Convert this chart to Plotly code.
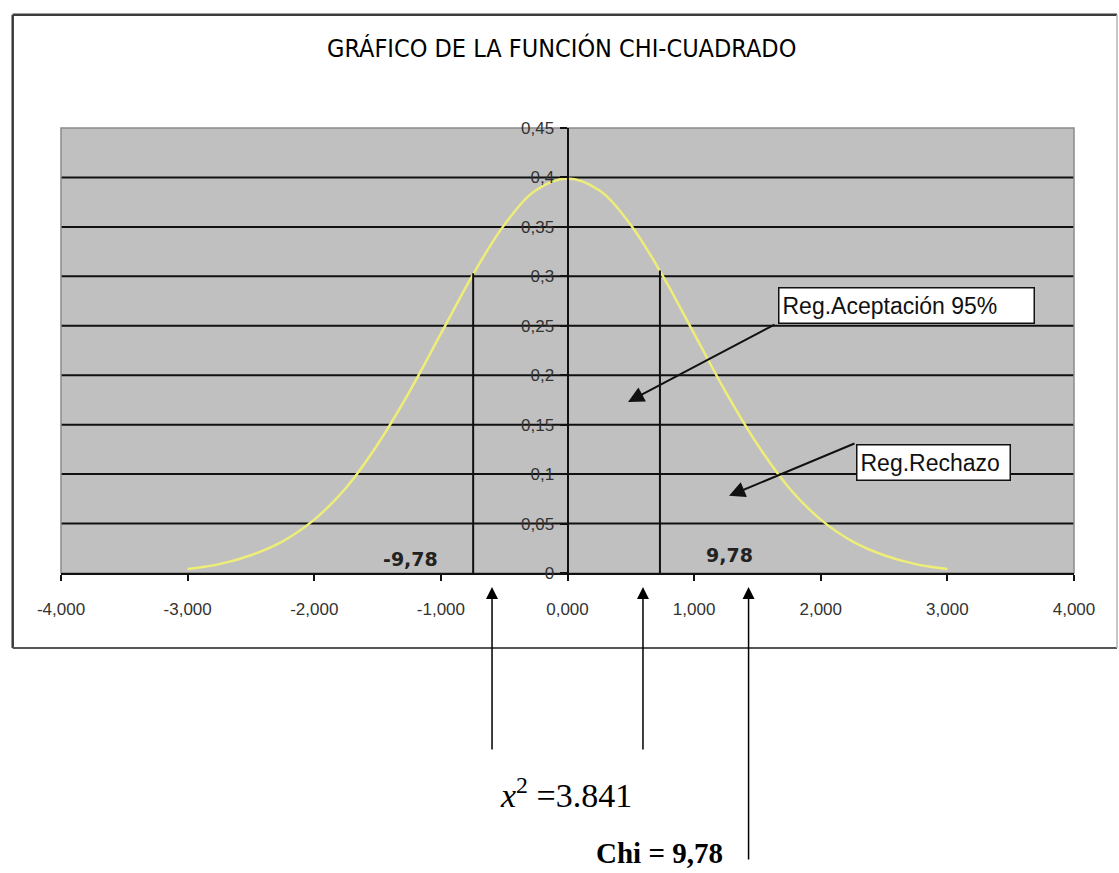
import plotly.graph_objects as go

# ---- figure geometry (pixels) ----
W, H = 1119, 873
L, R, T, B = 61, 45, 128, 300
PW, PH = W - L - R, H - T - B


def px(x):
    """pixel column -> paper x"""
    return (x - L) / PW


def py(y):
    """pixel row -> paper y"""
    return (H - B - y) / PH


# ---- data ----
curve_x = [-3.0, -2.75, -2.5, -2.25, -2.0, -1.75, -1.5, -1.25, -1.0, -0.75, -0.5, -0.25,
           0.0, 0.25, 0.5, 0.75, 1.0, 1.25, 1.5, 1.75, 2.0, 2.25, 2.5, 2.75, 3.0]
curve_y = [0.004, 0.009, 0.018, 0.032, 0.054, 0.086, 0.130, 0.183, 0.242, 0.301, 0.352, 0.387,
           0.399, 0.387, 0.352, 0.301, 0.242, 0.183, 0.130, 0.086, 0.054, 0.032, 0.018, 0.009, 0.004]

x_ticks = [-4, -3, -2, -1, 0, 1, 2, 3, 4]
x_tick_labels = ["-4,000", "-3,000", "-2,000", "-1,000", "0,000", "1,000", "2,000", "3,000", "4,000"]
y_ticks = [0, 0.05, 0.10, 0.15, 0.20, 0.25, 0.30, 0.35, 0.40, 0.45]
y_tick_labels = ["0", "0,05", "0,1", "0,15", "0,2", "0,25", "0,3", "0,35", "0,4", "0,45"]

crit_x = [-0.745, 0.73]
crit_y = [0.303, 0.306]
crit_labels = ["-9,78", "9,78"]
crit_label_x = [-1.24, 1.28]
crit_label_y = [0.014, 0.018]

# points on the x axis marked by the arrows under the chart
marker_x = [-0.596, 0.596, 1.43]

title_text = "GRÁFICO DE LA FUNCIÓN CHI-CUADRADO"
accept_text = "Reg.Aceptación 95%"
reject_text = "Reg.Rechazo"
chi2_text = "<i>x</i><sup>2</sup> =3.841"
chi_text = "<b>Chi = 9,78</b>"

fig = go.Figure()

# normal-shaped density curve
fig.add_trace(go.Scatter(
    x=curve_x, y=curve_y, mode="lines", line=dict(color="#EDED78", width=2.5, shape="spline"),
    hoverinfo="skip", showlegend=False,
))

# critical value verticals
for cx, cy in zip(crit_x, crit_y):
    fig.add_trace(go.Scatter(
        x=[cx, cx], y=[0, cy], mode="lines", line=dict(color="#111111", width=2),
        hoverinfo="skip", showlegend=False,
    ))

# horizontal grid lines (black), drawn under the curve
for yv in y_ticks[1:-1]:
    fig.add_shape(type="line", xref="paper", yref="y", x0=0, x1=1, y0=yv, y1=yv,
                  line=dict(color="#111111", width=2), layer="below")

# plot area border
fig.add_shape(type="rect", xref="paper", yref="paper", x0=0, x1=1, y0=0, y1=1,
              line=dict(color="#8a8a8a", width=1.5), layer="below")

# outer chart frame
frame = dict(xref="paper", yref="paper", type="line")
fig.add_shape(**frame, x0=px(12.7), x1=px(1117), y0=py(14.7), y1=py(14.7), line=dict(color="#3c3c3c", width=2.5))
fig.add_shape(**frame, x0=px(12.7), x1=px(12.7), y0=py(14.7), y1=py(648), line=dict(color="#3c3c3c", width=2.5))
fig.add_shape(**frame, x0=px(12.7), x1=px(1117), y0=py(648), y1=py(648), line=dict(color="#555555", width=2))
fig.add_shape(**frame, x0=px(1117), x1=px(1117), y0=py(14.7), y1=py(648), line=dict(color="#b5b5b5", width=1.5))

# title
fig.add_annotation(x=px(561), y=py(48), xref="paper", yref="paper", text=title_text, showarrow=False,
                   font=dict(family="Liberation Sans Narrow, DejaVu Sans Condensed, Arial Narrow, Arial",
                             size=25, color="#000000"),
                   xanchor="center", yanchor="middle")

# critical value labels
for lx, ly, lt in zip(crit_label_x, crit_label_y, crit_labels):
    fig.add_annotation(x=lx, y=ly, xref="x", yref="y", text=f"<b>{lt}</b>", showarrow=False,
                       font=dict(family="DejaVu Sans, Tahoma, sans-serif", size=19, color="#222222"),
                       xanchor="center", yanchor="middle")

# region call-out boxes
box_font = dict(family="Liberation Sans, Arial, sans-serif", size=23, color="#111111")
fig.add_annotation(x=px(778), y=py(287), xref="paper", yref="paper", text=accept_text, showarrow=False,
                   font=box_font, xanchor="left", yanchor="top", align="left",
                   bgcolor="white", bordercolor="#111111", borderwidth=1.5, borderpad=3,
                   width=248, height=28)
fig.add_annotation(x=px(856), y=py(444), xref="paper", yref="paper", text=reject_text, showarrow=False,
                   font=box_font, xanchor="left", yanchor="top", align="left",
                   bgcolor="white", bordercolor="#111111", borderwidth=1.5, borderpad=3,
                   width=146, height=28)

# call-out arrows
arrow = dict(showarrow=True, arrowhead=2, arrowsize=1.6, arrowwidth=2, arrowcolor="#111111", text="",
             xref="x", yref="y", axref="x", ayref="y")
fig.add_annotation(x=0.478, y=0.173, ax=1.647, ay=0.252, **arrow)
fig.add_annotation(x=1.276, y=0.078, ax=2.278, ay=0.1316, **arrow)

# arrows under the chart pointing up at the axis
for mx, tail in zip(marker_x, [164, 164, 274]):
    fig.add_annotation(x=mx, y=py(587), xref="x", yref="paper", ax=0, ay=tail, text="",
                       showarrow=True, arrowhead=2, arrowsize=1.6, arrowwidth=1.5, arrowcolor="#000000")

# formula texts
fig.add_annotation(x=px(498), y=py(793), xref="paper", yref="paper", text=chi2_text, showarrow=False,
                   font=dict(family="Liberation Serif, Times New Roman, serif", size=34, color="#000000"),
                   xanchor="left", yanchor="middle")
fig.add_annotation(x=px(725), y=py(853), xref="paper", yref="paper", text=chi_text, showarrow=False,
                   font=dict(family="Liberation Serif, Times New Roman, serif", size=29, color="#000000"),
                   xanchor="right", yanchor="middle")

tick_font = dict(family="Liberation Sans, Arial, sans-serif", size=17, color="#333333")

fig.update_layout(
    width=W, height=H,
    margin=dict(l=L, r=R, t=T, b=B),
    paper_bgcolor="white",
    plot_bgcolor="#C0C0C0",
    showlegend=False,
    xaxis=dict(
        range=[-4, 4], tickvals=x_ticks, ticktext=x_tick_labels,
        showgrid=False, zeroline=False,
        showline=True, linecolor="#111111", linewidth=2,
        ticks="outside", ticklen=6, tickwidth=1.5, tickcolor="#111111",
        tickfont=tick_font, ticklabelstandoff=14, fixedrange=True,
    ),
    yaxis=dict(
        range=[0, 0.45], tickvals=y_ticks, ticktext=y_tick_labels,
        anchor="free", position=0.5, side="left",
        showgrid=False, zeroline=False,
        showline=True, linecolor="#111111", linewidth=2,
        ticks="outside", ticklen=7, tickwidth=1.5, tickcolor="#111111",
        tickfont=tick_font, ticklabelstandoff=2, fixedrange=True,
    ),
)

fig.write_html("out.html")
